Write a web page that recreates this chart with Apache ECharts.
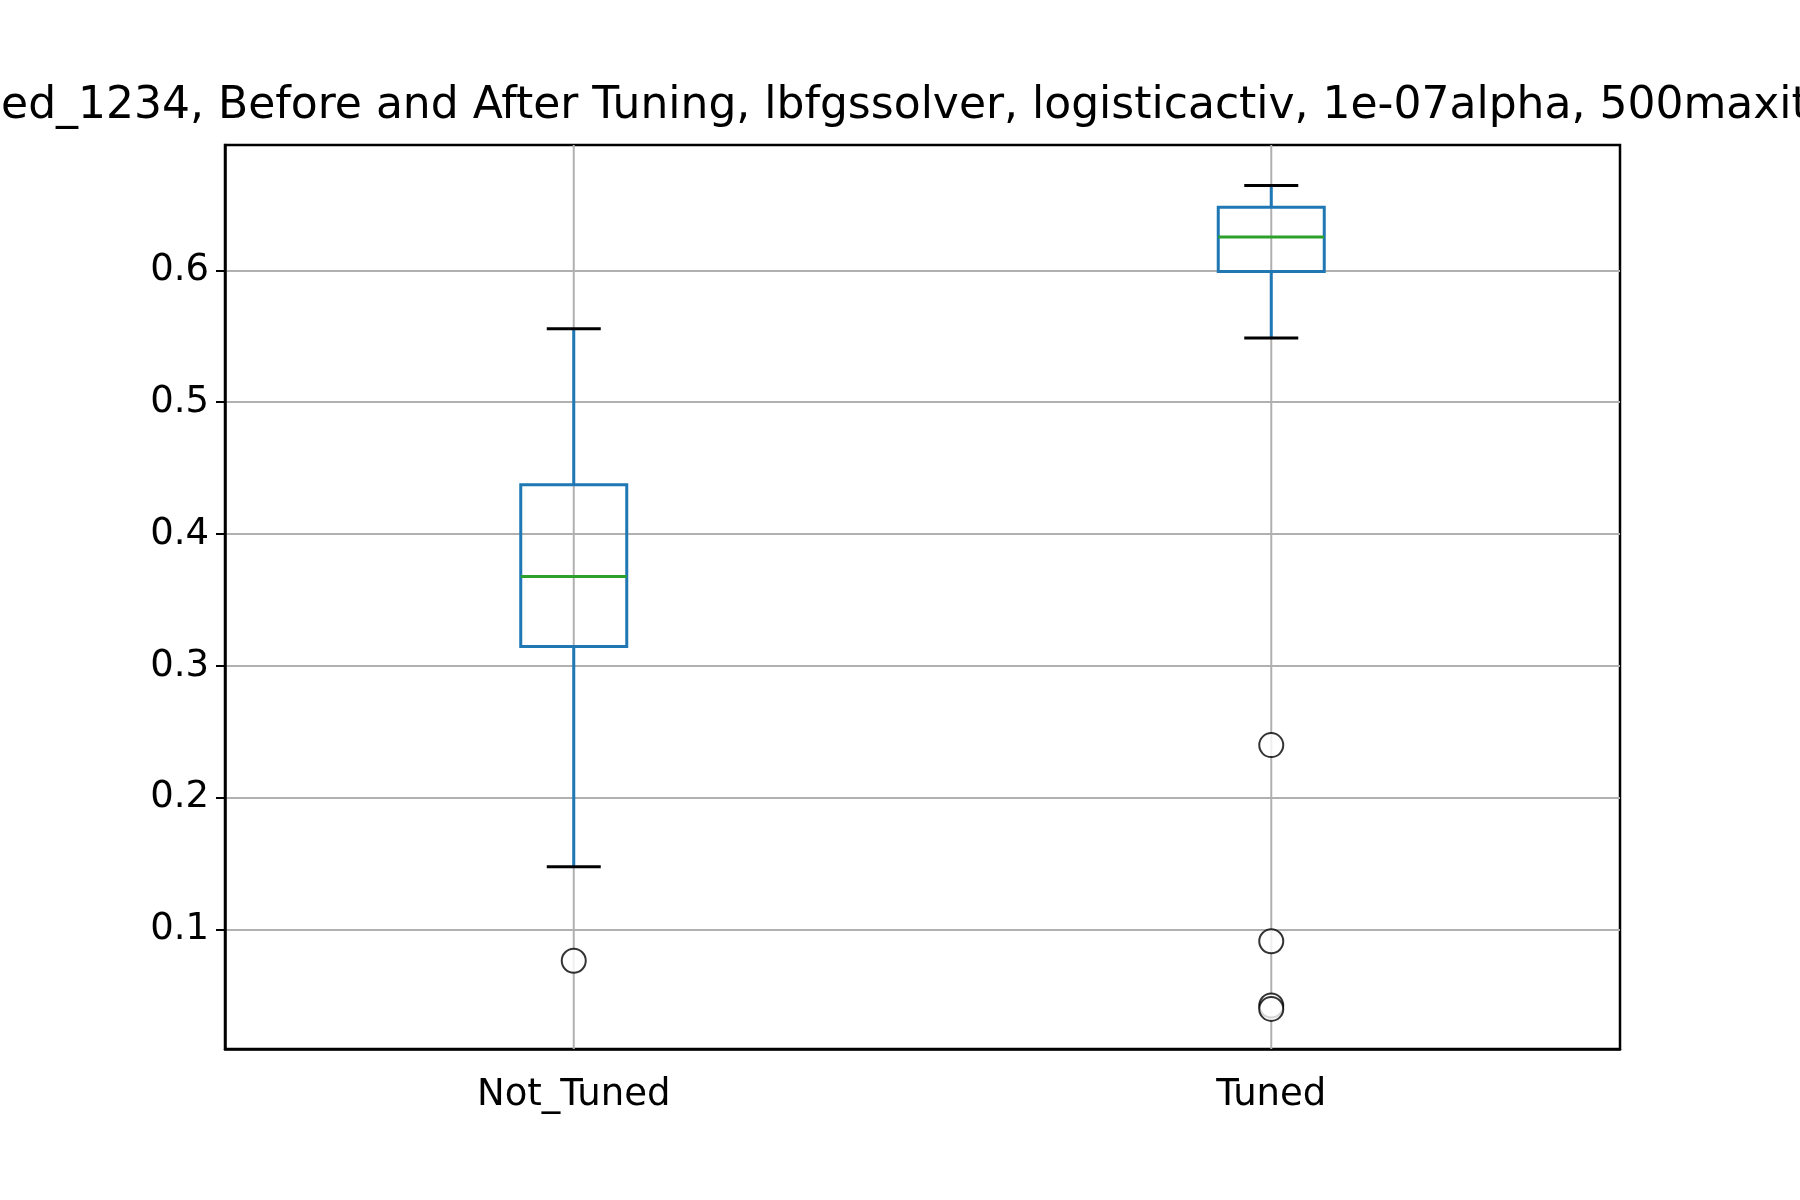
<!DOCTYPE html>
<html>
<head>
<meta charset="utf-8">
<script src="https://cdn.jsdelivr.net/npm/echarts@6/dist/echarts.min.js"></script>
<style>
  html, body { margin: 0; padding: 0; background: #fff; }
  #chart { width: 1800px; height: 1200px; }
</style>
</head>
<body>
<div id="chart"></div>
<script>
// ============================================================================
// Data
// ============================================================================

const categories = ['Not_Tuned', 'Tuned']
// [low whisker, Q1, median, Q3, high whisker]
const boxStats = [
    [0.1478, 0.3148, 0.3678, 0.4374, 0.5557],
    [0.5487, 0.5991, 0.6252, 0.6478, 0.6643],
]
const outliers = [
    [0, 0.0765],
    [1, 0.2400],
    [1, 0.0913],
    [1, 0.0426],
    [1, 0.0400],
]
const titleText = 'Seed_1234, Before and After Tuning, lbfgssolver, logisticactiv, 1e-07alpha, 500maxiter'

const yMin = 0.0096
const yMax = 0.695

// ============================================================================
// Chart
// ============================================================================

function renderBox(params, api) {
    const idx = api.value(0)
    const [lo, q1, med, q3, hi] = [1, 2, 3, 4, 5].map(i => api.value(i))
    const x = api.coord([idx, med])[0]
    const y = v => api.coord([idx, v])[1]
    const halfBox = 53
    const halfCap = 27
    const blue = {stroke: '#1f77b4', lineWidth: 3, fill: null}
    const black = {stroke: '#000', lineWidth: 3}
    const gridTop = y(yMax), gridBottom = y(yMin)
    return {
        type: 'group',
        children: [
            {type: 'line', z2: 0, shape: {x1: x, y1: gridTop, x2: x, y2: gridBottom}, style: {stroke: '#b0b0b0', lineWidth: 2}},
            {type: 'line', z2: 1, shape: {x1: x, y1: y(lo), x2: x, y2: y(q1)}, style: blue},
            {type: 'line', z2: 1, shape: {x1: x, y1: y(q3), x2: x, y2: y(hi)}, style: blue},
            {type: 'line', z2: 1, shape: {x1: x - halfCap, y1: y(lo), x2: x + halfCap, y2: y(lo)}, style: black},
            {type: 'line', z2: 1, shape: {x1: x - halfCap, y1: y(hi), x2: x + halfCap, y2: y(hi)}, style: black},
            {type: 'rect', z2: 1, shape: {x: x - halfBox, y: y(q3), width: 2 * halfBox, height: y(q1) - y(q3)}, style: blue},
            {type: 'line', z2: 2, shape: {x1: x - halfBox, y1: y(med), x2: x + halfBox, y2: y(med)}, style: {stroke: '#2ca02c', lineWidth: 3}},
        ]
    }
}

const chart = echarts.init(document.getElementById('chart'))
chart.setOption({
    animation: false,
    textStyle: {fontFamily: 'DejaVu Sans'},
    title: {
        text: titleText,
        left: 'center',
        top: 80,
        textStyle: {fontSize: 44, fontWeight: 'normal', color: '#000', fontFamily: 'DejaVu Sans'},
    },
    grid: {left: 225, right: 180, top: 145, bottom: 151, show: true, borderColor: '#000', borderWidth: 2.5},
    xAxis: {
        type: 'category',
        data: categories,
        axisLine: {lineStyle: {color: '#000', width: 2.5}},
        axisTick: {alignWithLabel: true, length: 9, lineStyle: {color: '#000', width: 2}},
        axisLabel: {fontSize: 37, color: '#000', margin: 28},
        splitLine: {show: false},
    },
    yAxis: {
        type: 'value',
        min: yMin,
        max: yMax,
        splitNumber: 7,
        axisLine: {show: true, lineStyle: {color: '#000', width: 2.5}},
        axisTick: {show: true, length: 9, lineStyle: {color: '#000', width: 2}},
        axisLabel: {fontSize: 37, color: '#000', margin: 16, showMinLabel: false, showMaxLabel: false},
        splitLine: {showMinLine: false, showMaxLine: false, lineStyle: {color: '#b0b0b0', width: 2}},
    },
    series: [
        {
            type: 'custom',
            renderItem: renderBox,
            data: boxStats.map((s, i) => [i, ...s]),
            z: 2,
        },
        {
            type: 'scatter',
            data: outliers,
            symbol: 'emptyCircle',
            symbolSize: 24,
            itemStyle: {color: '#000', borderWidth: 3},
            z: 3,
        },
    ],
})
</script>
</body>
</html>
